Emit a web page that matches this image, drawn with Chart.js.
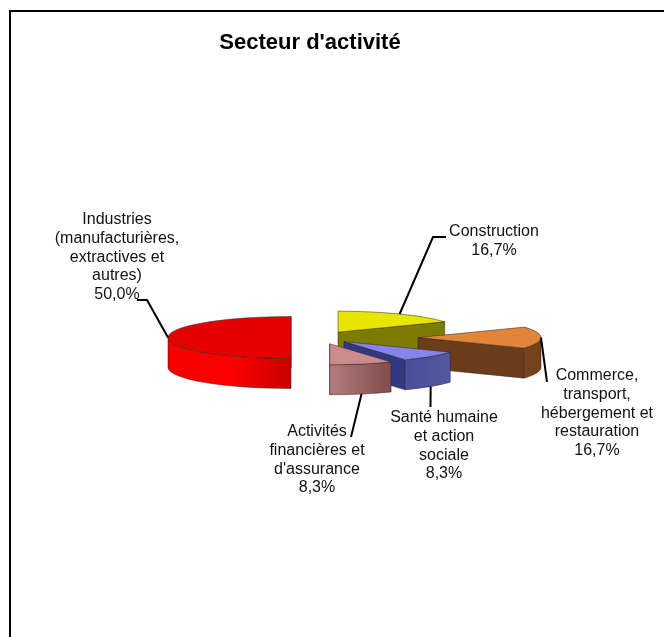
<!DOCTYPE html>
<html lang="fr">
<head>
<meta charset="utf-8">
<title>Secteur d'activité</title>
<script src="https://cdn.jsdelivr.net/npm/chart.js@4"></script>
<style>
  html, body { margin: 0; padding: 0; background: #fff; overflow: hidden; }
  #frame { position: absolute; left: 9px; top: 10px; width: 655px; height: 627px; border-left: 2px solid #000; border-top: 2px solid #000; }
  #bookingBox { position: absolute; left: 0; top: 0; width: 664px; height: 637px; }
</style>
</head>
<body>
<div id="frame"></div>
<div id="bookingBox"><canvas id="pieChart" width="664" height="637"></canvas></div>
<script>
const chartTitle = "Secteur d'activité";
const categories = [
  ["Construction"],
  ["Commerce,", "transport,", "hébergement et", "restauration"],
  ["Santé humaine", "et action", "sociale"],
  ["Activités", "financières et", "d'assurance"],
  ["Industries", "(manufacturières,", "extractives et", "autres)"],
];
const shares = [16.7, 16.7, 8.3, 8.3, 50.0];

// look of the 3D pie
const topColors = ["#e6e600", "#e0853a", "#8484ec", "#cc8c8c", "#e40000"];
const wallColors = ["#7c7c00", "#6b3d1a", "#2f3a82", "#8a5a5a", "#ff0000"];
// rim gradients, left to right
const rimColors = [
  ["#7c7c00", "#7c7c00"],
  ["#74431c", "#74431c"],
  ["#4a4e9a", "#54589f"],
  ["#b47c7c", "#804c4c"],
  ["#f40000", "#ff0000", "#c80000"],
];
const pulled = [36, 98, 34, 38, 29];
const pieRadius = 123;
const squash = 0.1707;
const depth = 30;
const pieShiftX = 10;

// label text centre, first line y, and the leader's bend points
const labelSpots = [
  { x: 494, y: 232, leader: [[433, 237], [446, 237]], face: "top" },
  { x: 597, y: 376, leader: [[547, 382]], face: "top" },
  { x: 444, y: 418, leader: [[430.5, 407]], face: "side" },
  { x: 317, y: 432, leader: [[351, 437]], face: "side" },
  { x: 117, y: 220, leader: [[147, 300], [137, 300]], face: "top" },
];
const lineGap = 18.6;

function sliceCentre(arc, i) {
  const mid = (arc.startAngle + arc.endAngle) / 2;
  return {
    x: arc.x + pieShiftX + Math.cos(mid) * pulled[i],
    y: arc.y + Math.sin(mid) * pulled[i] * squash,
  };
}

function drawSlice(ctx, arc, i) {
  const c = sliceCentre(arc, i);
  const r = arc.outerRadius;
  const ry = r * squash;
  const a = arc.startAngle;
  const b = arc.endAngle;
  const edge = "rgba(50,30,30,0.5)";

  // cut face on the clockwise end of the slice
  const ex = c.x + Math.cos(b) * r;
  const ey = c.y + Math.sin(b) * ry;
  ctx.beginPath();
  ctx.moveTo(c.x, c.y);
  ctx.lineTo(ex, ey);
  ctx.lineTo(ex, ey + depth);
  ctx.lineTo(c.x, c.y + depth);
  ctx.closePath();
  ctx.fillStyle = wallColors[i];
  ctx.fill();
  ctx.strokeStyle = edge;
  ctx.lineWidth = 1;
  ctx.stroke();

  // rim, only the part turned to the viewer
  const from = Math.max(a, 0);
  const to = Math.min(b, Math.PI);
  if (to > from) {
    const x1 = c.x + Math.cos(from) * r;
    const x2 = c.x + Math.cos(to) * r;
    const grad = ctx.createLinearGradient(Math.min(x1, x2), 0, Math.max(x1, x2), 0);
    const stops = rimColors[i];
    stops.forEach((col, n) => grad.addColorStop(n / (stops.length - 1), col));
    ctx.beginPath();
    ctx.ellipse(c.x, c.y, r, ry, 0, from, to);
    ctx.ellipse(c.x, c.y + depth, r, ry, 0, to, from, true);
    ctx.closePath();
    ctx.fillStyle = grad;
    ctx.fill();
    ctx.stroke();
  }

  // top face, drawn by the arc element itself in the squashed space
  ctx.save();
  ctx.translate(c.x, c.y);
  ctx.scale(1, squash);
  ctx.translate(-arc.x, -arc.y);
  arc.draw(ctx);
  ctx.restore();

  ctx.beginPath();
  ctx.moveTo(c.x, c.y);
  ctx.ellipse(c.x, c.y, r, ry, 0, a, b);
  ctx.closePath();
  ctx.strokeStyle = edge;
  ctx.stroke();
}

const pie3d = {
  id: "pie3d",
  beforeDatasetDraw(chart) {
    const arcs = chart.getDatasetMeta(0).data;
    // back to front, red half is on its own
    [4, 0, 1, 2, 3].forEach((i) => drawSlice(chart.ctx, arcs[i], i));
    return false;
  },
  afterDatasetsDraw(chart) {
    const ctx = chart.ctx;
    const arcs = chart.getDatasetMeta(0).data;
    ctx.save();
    arcs.forEach((arc, i) => {
      const spot = labelSpots[i];
      const c = sliceCentre(arc, i);
      const mid = (arc.startAngle + arc.endAngle) / 2;
      const sx = c.x + Math.cos(mid) * arc.outerRadius;
      const sy = c.y + Math.sin(mid) * arc.outerRadius * squash + (spot.face === "side" ? depth : 0);
      ctx.beginPath();
      ctx.moveTo(sx, sy);
      spot.leader.forEach((p) => ctx.lineTo(p[0], p[1]));
      ctx.strokeStyle = "#000";
      ctx.lineWidth = 2;
      ctx.stroke();

      const lines = categories[i].concat(shares[i].toFixed(1).replace(".", ",") + "%");
      ctx.fillStyle = "#111";
      ctx.font = "16px 'Liberation Sans'";
      ctx.textAlign = "center";
      ctx.textBaseline = "middle";
      lines.forEach((line, n) => ctx.fillText(line, spot.x, spot.y + n * lineGap));
    });
    ctx.restore();
  },
};

new Chart(document.getElementById("pieChart"), {
  type: "pie",
  plugins: [pie3d],
  data: {
    labels: categories,
    datasets: [
      {
        data: shares,
        backgroundColor: topColors,
        borderWidth: 0,
        radius: pieRadius,
      },
    ],
  },
  options: {
    responsive: false,
    animation: false,
    layout: { padding: { right: 44, bottom: 18.4 } },
    plugins: {
      legend: { display: false },
      tooltip: { enabled: false },
      title: {
        display: true,
        text: chartTitle,
        color: "#000",
        font: { family: "'Liberation Sans'", size: 22, weight: "bold" },
        padding: { top: 30, bottom: 0 },
      },
    },
  },
});
</script>
</body>
</html>
